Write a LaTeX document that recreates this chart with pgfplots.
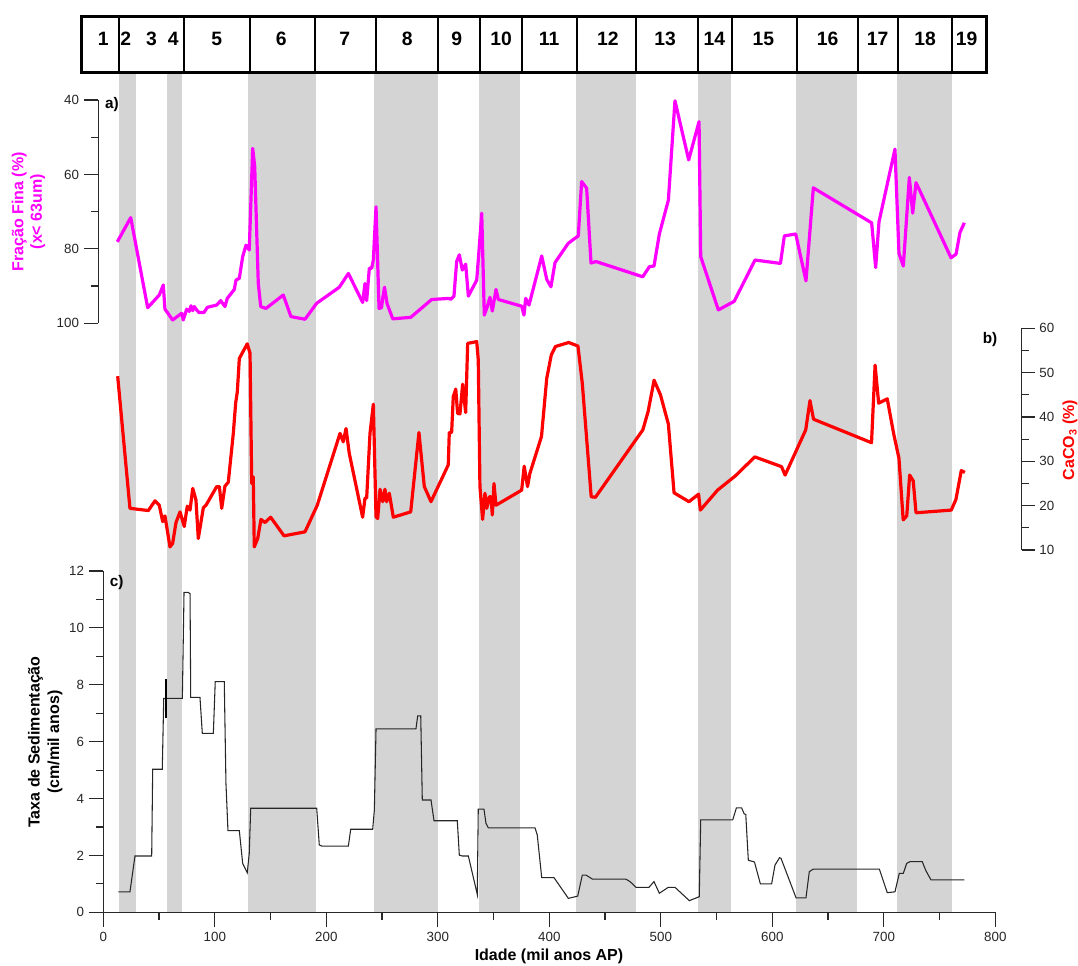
\documentclass[border=0pt]{standalone}
\usepackage{pgfplots}
\pgfplotsset{compat=1.18}
\usepackage{fontspec}
\setmainfont{Liberation Sans}
\definecolor{band}{RGB}{212,212,212}
\definecolor{mag}{RGB}{255,0,255}
\definecolor{axl}{RGB}{40,40,40}

\pgfplotstableread{
x y
12.6 78.1
24.6 71.6
39.8 95.8
50.2 92.4
53.8 89.7
55.3 96.2
62.2 99.1
70.3 97.3
71.7 99.1
74.8 96.2
77.1 96.8
78.7 95.3
80.2 96.6
81.6 95.5
83.7 96.4
85.8 97.1
90.3 97.1
93.3 95.7
101.7 95.1
105.3 93.9
109.1 95.5
111.2 93.3
117.5 90.9
119 88.4
122 87.9
125 82.1
128 79
130.9 80.3
134 53
135.8 57.9
139 89.3
141.2 95.5
145.9 96
161.4 92.4
168.3 98.2
180.9 98.9
191.4 94.6
211.7 90.3
219.8 86.6
232.6 94.4
234.7 89.3
236.2 93.9
238.6 85.2
240.7 85.2
242.2 83
244.6 68.7
247.3 96
249.5 95.8
250.6 93.3
252.2 90.3
254.5 94.7
259.6 98.8
275.7 98.4
294.5 93.6
310.3 93.3
311.5 93.6
314.5 92.7
316.9 83.4
319.3 81.6
322 85.7
325 84.1
327.4 92.7
334.9 88.4
337 80.3
339.4 70.4
341.7 97.8
344.4 95.5
346.8 93
348.9 96.7
352.2 90.9
354.3 93.6
375.2 95.4
377.3 97.8
378.8 93.3
381.8 95.1
393.2 81.9
397.7 88.2
401.5 90.2
405.1 83.7
417 78.5
426 76.5
429 61.9
433.5 63.7
437.4 83.8
441.9 83.4
483.8 87.5
489.7 84.8
493.9 84.6
498.7 76
506.8 66.9
512.7 40.2
525 56.1
534.3 45.8
535.8 82.1
551.6 96.4
565.8 94.1
584.5 83
607.3 83.9
610.8 76.5
621 76
630.2 88.6
636.8 63.6
689.1 73
692.7 85
695.7 72.7
710 53.2
713.6 81.2
717.5 84.6
722.9 60.8
725.9 70.4
728.9 62.2
760.3 82.4
764.8 81.4
768.3 75.6
772.2 73
}\fina

\pgfplotstableread{
x y
12.9 49.2
23.9 19.4
40.4 18.9
46.4 21.1
50.2 20.1
53.3 16.4
55.3 17.7
59.8 10.7
62.2 11.5
65.2 16.2
68.8 18.6
72.6 15.3
75.3 19.9
77.8 19
80.2 23.9
83.1 21.3
85.2 12.6
89.7 19.5
92.1 20.1
101.7 24.3
104.1 24.3
106.2 19.4
109.1 24.4
112.1 25.3
116.6 36.3
118.7 43.1
120.2 45.7
122 53.2
129.1 56.5
131.6 54.4
133.1 25
134.5 26.5
135.4 10.7
138.5 12.6
141.4 16.9
145 16.2
150.1 17.4
162.1 13.2
180.9 14.1
191.9 20.1
212.3 36.3
215.2 34.4
217.7 37.4
220.6 31.8
232.6 17.4
234.7 21.7
236.2 21.7
239.2 36.3
242.2 42.9
244.6 17.5
246.1 17.1
248.2 23.7
250.6 20.9
252.6 23.7
254.1 20.9
256.5 22.8
260.1 17.4
275.7 18.6
283.1 36.5
287.9 24.3
293.9 20.9
309.4 29.2
310.3 36.5
312.4 36.5
313.9 44.6
316.1 46.3
317.8 40.8
319.9 40.7
322.3 47.4
325 41
326.8 56.6
334.9 57
336.3 52.9
337.8 24.3
340.2 16.9
342.3 22.8
343.9 19.4
346.2 22
347.7 22
348.9 17.9
350.4 25
352.2 20.1
375.2 23.5
377.5 28.9
380.5 24.3
382.5 27.2
393 35.6
397.7 48.7
401.8 54
405.6 55.9
417.4 56.8
425.7 56
429.6 47.6
437.6 22
441.4 21.9
483.9 37.1
488.6 41.2
494 48.3
499.7 45
506.8 38.4
511.9 22.9
525.3 20.9
533.9 22.6
535.5 19
550.9 23.5
566.8 26.7
584.3 31
608.3 28.8
611.5 26.9
630 37.1
633.8 43.7
637 39.5
689 34.2
692.2 51.7
695.4 43.1
703.1 44.1
708.8 36.3
713.6 30.7
717.4 16.8
720.6 17.7
723.2 26.9
726.4 25.6
728.9 18.4
760.5 19
764.7 21.4
769.5 27.9
772.7 27.5
}\caco

\pgfplotstableread{
x y
13.5 0.72
23.9 0.72
28.4 1.98
43.4 1.98
44.3 5.03
52.9 5.03
54.2 7.52
70.9 7.52
72.4 11.25
76.2 11.25
77.8 11.2
78.4 7.56
86.7 7.56
88.8 6.29
98.7 6.29
100.4 8.11
108.5 8.11
110 4.54
111.8 2.87
122 2.87
125 1.72
129.1 1.39
130.9 2.07
132.2 3.66
191.4 3.66
193.7 2.37
195.9 2.33
219.8 2.33
221.9 2.92
241.6 2.92
243.1 3.6
244.6 6.45
280.4 6.45
282 6.91
284.7 6.91
286.1 3.95
293.9 3.95
296.6 3.22
317.5 3.22
319.3 2.01
322 1.98
327.4 1.98
335.4 0.63
336.3 3.63
341.4 3.63
343.2 3.13
345.3 2.97
387.2 2.97
389.2 2.72
393.2 1.22
404.2 1.22
417.1 0.49
425.5 0.57
429.6 1.31
432.9 1.31
438.6 1.17
468.5 1.17
472.4 1.08
477.8 0.88
489.4 0.88
493.9 1.08
498.7 0.67
506.7 0.88
512.7 0.88
525.6 0.41
534.5 0.55
535.8 3.25
564.5 3.25
567.8 3.67
572.5 3.67
574.8 3.46
576.2 3.44
578.5 1.83
584 1.77
589.3 1
599.4 1
602.4 1.66
606.5 1.92
607.8 1.9
621.3 0.51
630.2 0.51
633.2 1.43
636.8 1.52
696 1.52
703.1 0.69
710 0.72
713.9 1.37
717.5 1.37
720.5 1.72
723.5 1.78
734.5 1.78
737.8 1.46
742.3 1.14
772.2 1.14
}\taxa

\begin{document}
\begin{tikzpicture}
\useasboundingbox (0,0) rectangle (808.5pt,-723.75pt);
\pgfplotsset{
  base/.style={scale only axis, anchor=south west,
    tick align=outside, major tick length=11pt, minor tick length=5.5pt,
    every tick/.style={axl, line width=0.9pt},
    axis line style={axl, line width=0.9pt},
    tick label style={font=\fontsize{10}{12}\selectfont, text=black!85},
    /pgf/number format/assume math mode=true,
  },
}
% gray bands (marine isotope stages)
\begin{axis}[scale only axis, anchor=south west, at={(77.475pt,-684.225pt)},
  width=669pt, height=628.725pt, xmin=0, xmax=800, ymin=0, ymax=1, hide axis]
  \addplot[fill=band, draw=none] coordinates {(14,0)(29,0)(29,1)(14,1)} -- cycle;
  \addplot[fill=band, draw=none] coordinates {(57,0)(71,0)(71,1)(57,1)} -- cycle;
  \addplot[fill=band, draw=none] coordinates {(130,0)(191,0)(191,1)(130,1)} -- cycle;
  \addplot[fill=band, draw=none] coordinates {(243,0)(300,0)(300,1)(243,1)} -- cycle;
  \addplot[fill=band, draw=none] coordinates {(337,0)(374,0)(374,1)(337,1)} -- cycle;
  \addplot[fill=band, draw=none] coordinates {(424,0)(478,0)(478,1)(424,1)} -- cycle;
  \addplot[fill=band, draw=none] coordinates {(533,0)(563,0)(563,1)(533,1)} -- cycle;
  \addplot[fill=band, draw=none] coordinates {(621,0)(676,0)(676,1)(621,1)} -- cycle;
  \addplot[fill=band, draw=none] coordinates {(712,0)(761,0)(761,1)(712,1)} -- cycle;
\end{axis}
% stage boxes
\begin{axis}[scale only axis, anchor=south west, at={(77.475pt,-54.375pt)},
  width=669pt, height=42.375pt, xmin=0, xmax=800, ymin=0, ymax=1, hide axis, clip=false]
  \pgfplotsinvokeforeach{14.5,72.6,131.6,190.2,244.9,300.2,338.2,375.9,424.9,477.5,533.3,563.7,622.2,677.3,712.4,761}{
    \draw[line width=1.5pt] (axis cs:#1,0) -- (axis cs:#1,1);}
  \draw[line width=2.25pt] (axis cs:-19.7,0) rectangle (axis cs:792.4,1);
  \begin{scope}[every node/.style={font=\bfseries\fontsize{14.5}{16}\selectfont}]
  \node at (axis cs:0,0.59) {1};
  \node at (axis cs:20.1,0.59) {2};
  \node at (axis cs:43.2,0.59) {3};
  \node at (axis cs:62.7,0.59) {4};
  \node at (axis cs:101.8,0.59) {5};
  \node at (axis cs:159.5,0.59) {6};
  \node at (axis cs:216.5,0.59) {7};
  \node at (axis cs:272.6,0.59) {8};
  \node at (axis cs:317,0.59) {9};
  \node at (axis cs:356.8,0.59) {10};
  \node at (axis cs:399.8,0.59) {11};
  \node at (axis cs:452.5,0.59) {12};
  \node at (axis cs:503.8,0.59) {13};
  \node at (axis cs:548,0.59) {14};
  \node at (axis cs:592,0.59) {15};
  \node at (axis cs:649.7,0.59) {16};
  \node at (axis cs:694.5,0.59) {17};
  \node at (axis cs:737,0.59) {18};
  \node at (axis cs:774.3,0.59) {19};
  \end{scope}
\end{axis}
% panel a
\begin{axis}[base, at={(73.725pt,-242.475pt)}, width=672.75pt, height=167.475pt,
  xmin=-4.48, xmax=800, ymin=40, ymax=100, y dir=reverse,
  axis x line=none, axis y line*=left, xtick=\empty,
  ytick={40,60,80,100}, minor ytick={50,70,90}, clip=false]
  \addplot[mag, line width=2.4pt, line join=round] table[x=x,y=y] {\fina};
\end{axis}
% panel b
\begin{axis}[base, at={(77.475pt,-412.5pt)}, width=688.8pt, height=166.275pt,
  xmin=0, xmax=823.7, ymin=10, ymax=60, major tick length=9.75pt, minor tick length=5.25pt,
  axis x line=none, axis y line*=right, xtick=\empty,
  ytick={10,20,...,60}, minor ytick={15,25,...,55}, clip=false]
  \addplot[red, line width=2.4pt, line join=round] table[x=x,y=y] {\caco};
\end{axis}
% panel c
\begin{axis}[base, at={(77.475pt,-684.225pt)}, width=669pt, height=255.975pt,
  xmin=0, xmax=800, ymin=0, ymax=12,
  axis x line*=bottom, axis y line*=left,
  xtick={0,100,...,800}, minor xtick={50,150,...,750},
  ytick={0,2,...,12}, minor ytick={1,3,...,11}, clip=false]
  \addplot[black!85, line width=0.8pt] table[x=x,y=y] {\taxa};
  \addplot[black, line width=1.5pt] coordinates {(56.3,6.82)(56.3,8.19)};
\end{axis}
% labels
\node[rotate=90, align=center, text=mag, font=\bfseries\fontsize{12}{14}\selectfont]
  at (21.375pt,-158.775pt) {Fração Fina (\%)\\(x< 63um)};
\node[rotate=90, align=center, font=\bfseries\fontsize{12}{14.5}\selectfont]
  at (33.94pt,-556.5pt) {Taxa de Sedimentação\\(cm/mil anos)};
\node[rotate=90, text=red, font=\bfseries\fontsize{12}{14}\selectfont]
  at (802.5pt,-330pt) {CaCO\textsubscript{3} (\%)};
\node[font=\bfseries\fontsize{12}{14}\selectfont] at (411.75pt,-717pt) {Idade (mil anos AP)};
\node[font=\bfseries\fontsize{11.5}{14}\selectfont] at (84pt,-78.75pt) {a)};
\node[font=\bfseries\fontsize{11.5}{14}\selectfont] at (742.5pt,-255pt) {b)};
\node[font=\bfseries\fontsize{11.5}{14}\selectfont] at (87.5pt,-437pt) {c)};
\end{tikzpicture}
\end{document}
